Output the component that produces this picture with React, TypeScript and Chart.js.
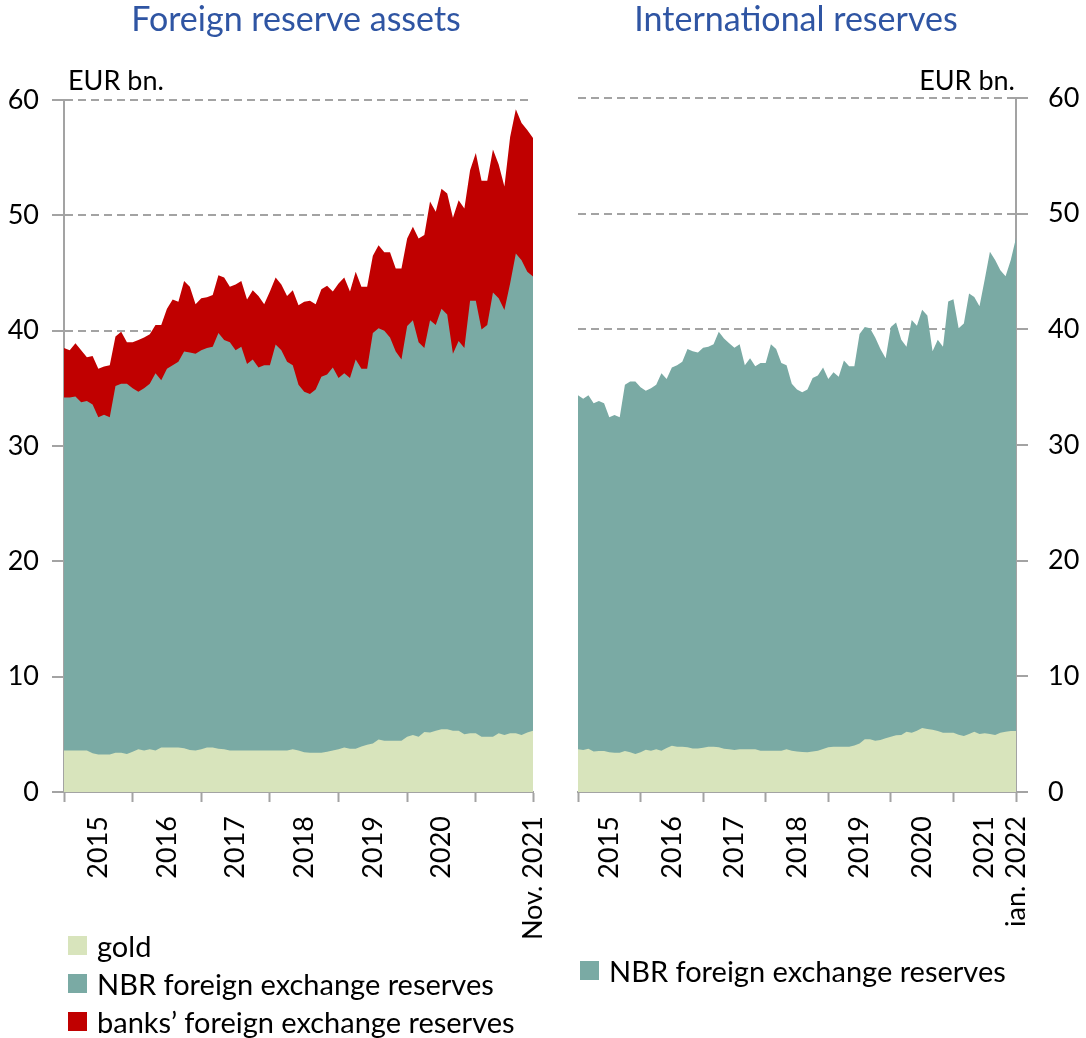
import React, { useEffect, useRef } from "react";
import { Chart, registerables } from "chart.js";

Chart.register(...registerables);

// ---------- data (EUR bn., monthly) ----------
// Left panel: Jan 2015 .. Nov 2021 (83 months)
const goldLeft = [
  3.6, 3.6, 3.6, 3.6, 3.6, 3.35, 3.25, 3.25, 3.25, 3.4,
  3.4, 3.3, 3.5, 3.7, 3.6, 3.7, 3.6, 3.85, 3.85, 3.85,
  3.85, 3.8, 3.65, 3.6, 3.7, 3.85, 3.85, 3.75, 3.7, 3.6,
  3.6, 3.6, 3.6, 3.6, 3.6, 3.6, 3.6, 3.6, 3.6, 3.6,
  3.7, 3.6, 3.45, 3.4, 3.4, 3.4, 3.5, 3.6, 3.7, 3.85,
  3.75, 3.75, 3.95, 4.1, 4.2, 4.55, 4.45, 4.45, 4.45, 4.45,
  4.8, 4.95, 4.8, 5.2, 5.15, 5.3, 5.45, 5.45, 5.3, 5.3,
  5.0, 5.1, 5.1, 4.8, 4.8, 4.8, 5.1, 4.95, 5.1, 5.1,
  4.95, 5.15, 5.3,
];
// gold + NBR foreign exchange reserves (cumulative level)
const nbrLevelLeft = [
  34.2, 34.2, 34.3, 33.8, 33.9, 33.6, 32.5, 32.7, 32.5, 35.2,
  35.4, 35.4, 35.0, 34.7, 35.0, 35.4, 36.3, 35.7, 36.7, 37.0,
  37.3, 38.2, 38.1, 38.0, 38.3, 38.5, 38.6, 39.8, 39.2, 39.0,
  38.3, 38.6, 37.1, 37.5, 36.8, 37.0, 37.0, 38.8, 38.3, 37.3,
  37.0, 35.3, 34.7, 34.5, 34.9, 36.0, 36.2, 36.8, 35.9, 36.3,
  35.9, 37.5, 36.7, 36.7, 39.8, 40.2, 40.0, 39.4, 38.2, 37.5,
  40.4, 40.9, 39.0, 38.5, 40.9, 40.5, 41.9, 41.4, 38.0, 39.1,
  38.5, 42.6, 42.6, 40.1, 40.5, 43.3, 42.8, 41.8, 44.1, 46.7,
  46.1, 45.1, 44.7,
];
// gold + NBR FX reserves + banks' FX reserves (total foreign reserve assets)
const totalLeft = [
  38.5, 38.3, 38.9, 38.3, 37.7, 37.8, 36.7, 36.9, 37.0, 39.5,
  39.9, 39.0, 39.0, 39.2, 39.4, 39.7, 40.5, 40.5, 41.9, 42.7,
  42.5, 44.3, 43.8, 42.3, 42.8, 42.9, 43.1, 44.8, 44.6, 43.8,
  44.0, 44.3, 42.7, 43.5, 43.0, 42.3, 43.4, 44.6, 44.0, 43.0,
  43.5, 42.2, 42.5, 42.6, 42.3, 43.6, 43.9, 43.4, 44.1, 44.6,
  43.4, 45.1, 43.8, 43.8, 46.5, 47.4, 46.8, 46.8, 45.4, 45.4,
  48.0, 49.0, 48.0, 48.3, 51.2, 50.3, 52.3, 51.9, 49.8, 51.3,
  50.6, 53.9, 55.4, 53.0, 53.0, 55.7, 54.4, 52.5, 56.8, 59.2,
  58.0, 57.4, 56.7,
];

// Right panel: Jan 2015 .. Jan 2022 (85 months)
const goldRight = [
  3.69, 3.63, 3.74, 3.5, 3.54, 3.54, 3.43, 3.4, 3.4, 3.54,
  3.43, 3.28, 3.43, 3.66, 3.57, 3.69, 3.57, 3.8, 4.0, 3.92,
  3.92, 3.86, 3.77, 3.77, 3.83, 3.92, 3.92, 3.86, 3.74, 3.69,
  3.63, 3.69, 3.69, 3.69, 3.69, 3.57, 3.57, 3.57, 3.57, 3.57,
  3.69, 3.57, 3.51, 3.46, 3.43, 3.51, 3.57, 3.71, 3.86, 3.92,
  3.92, 3.92, 3.92, 4.03, 4.2, 4.55, 4.55, 4.43, 4.49, 4.64,
  4.78, 4.9, 4.93, 5.2, 5.13, 5.3, 5.53, 5.45, 5.39, 5.27,
  5.13, 5.13, 5.13, 4.95, 4.84, 5.01, 5.2, 5.01, 5.07, 5.01,
  4.93, 5.13, 5.2, 5.27, 5.27,
];
// international reserves = gold + NBR FX reserves (cumulative level)
const intlRight = [
  34.3, 34.0, 34.3, 33.6, 33.8, 33.6, 32.4, 32.6, 32.4, 35.2,
  35.5, 35.5, 35.0, 34.7, 34.9, 35.2, 36.2, 35.7, 36.7, 36.9,
  37.2, 38.3, 38.1, 38.0, 38.4, 38.5, 38.7, 39.8, 39.2, 38.8,
  38.4, 38.7, 36.9, 37.5, 36.8, 37.1, 37.1, 38.7, 38.3, 37.1,
  36.9, 35.3, 34.8, 34.55, 34.8, 35.8, 36.0, 36.7, 35.7, 36.3,
  35.9, 37.3, 36.8, 36.8, 39.6, 40.2, 40.1, 39.3, 38.3, 37.5,
  40.2, 40.6, 39.1, 38.5, 40.8, 40.3, 41.7, 41.2, 38.1, 39.1,
  38.5, 42.4, 42.6, 40.1, 40.5, 43.1, 42.8, 42.0, 44.3, 46.7,
  46.0, 45.1, 44.6, 46.0, 47.9,
];

// tick labels: month index -> label
const leftTickLabels: [number, string][] = [
  [6, "2015"], [18, "2016"], [30, "2017"], [42, "2018"], [54, "2019"], [66, "2020"], [82, "Nov. 2021"],
];
const rightTickLabels: [number, string][] = [
  [6, "2015"], [18, "2016"], [30, "2017"], [42, "2018"], [54, "2019"], [66, "2020"], [78, "2021"], [84, "ian. 2022"],
];
const leftTickMarks = [0, 12, 24, 36, 48, 60, 72, 82];
const rightTickMarks = [0, 12, 24, 36, 48, 60, 72, 84];

const legendLeft = ["gold", "NBR foreign exchange reserves", "banks\u2019 foreign exchange reserves"];
const legendRight = ["NBR foreign exchange reserves"];

// ---------- styles ----------
const FONT = "Lato, 'Open Sans', sans-serif";
const GRAY = "#A3A3A3";
const C_GOLD = "#D8E4BC";
const C_NBR = "#7AAAA4";
const C_BANKS = "#C00000";
const TITLE_BLUE = "#2F55A3";
const AXIS_FONT = 27;
const LEGEND_FONT = 29;

type PanelCfg = {
  series: { data: number[]; color: string }[];
  tickLabels: [number, string][];
  tickMarks: number[];
  yPos: "left" | "right";
  yPad: number;
  padding: { top: number; right: number; left: number; bottom: number };
  yWidth: number;
  xHeight: number;
};

function buildConfig(p: PanelCfg): any {
  const n = p.series[0].data.length;
  const labelMap = new Map<number, string>(p.tickLabels);
  const markSet = new Set<number>(p.tickMarks);
  const tickVals = Array.from(new Set([...p.tickMarks, ...p.tickLabels.map((t) => t[0])])).sort((a, b) => a - b);
  return {
    type: "line",
    data: {
      datasets: p.series.map((s) => ({
        data: s.data.map((v, i) => ({ x: i, y: v })),
        backgroundColor: s.color,
        borderColor: s.color,
        borderWidth: 0,
        pointRadius: 0,
        fill: "origin",
        tension: 0,
      })),
    },
    options: {
      animation: false,
      responsive: false,
      maintainAspectRatio: false,
      layout: { padding: p.padding },
      plugins: { legend: { display: false }, tooltip: { enabled: false }, title: { display: false } },
      scales: {
        x: {
          type: "linear",
          min: 0,
          max: n - 1,
          position: "bottom",
          afterBuildTicks: (s: any) => {
            s.ticks = tickVals.map((v) => ({ value: v }));
          },
          afterFit: (s: any) => {
            s.height = p.xHeight;
            s.paddingLeft = 0;
            s.paddingRight = 0;
          },
          grid: {
            drawOnChartArea: false,
            drawTicks: true,
            tickLength: 10,
            tickWidth: 2,
            tickColor: (ctx: any) => (ctx.tick && markSet.has(ctx.tick.value) ? GRAY : "rgba(0,0,0,0)"),
          },
          border: { display: true, color: GRAY, width: 2 },
          ticks: {
            autoSkip: false,
            minRotation: 90,
            maxRotation: 90,
            padding: 14,
            color: "#000",
            font: { family: FONT, size: AXIS_FONT },
            callback: (v: any) => labelMap.get(Number(v)) ?? "",
          },
        },
        y: {
          min: 0,
          max: 60,
          position: p.yPos,
          afterFit: (s: any) => {
            s.width = p.yWidth;
          },
          grid: {
            color: (ctx: any) => (ctx.tick && ctx.tick.value === 0 ? "rgba(0,0,0,0)" : GRAY),
            lineWidth: 2,
            drawTicks: true,
            tickLength: 12,
            tickColor: GRAY,
            tickWidth: 2,
            tickBorderDash: [],
          },
          border: { display: true, color: GRAY, width: 2, dash: [8, 5] },
          ticks: {
            stepSize: 10,
            padding: p.yPad,
            color: "#000",
            font: { family: FONT, size: AXIS_FONT },
          },
        },
      },
    },
  };
}

function Panel({ cfg, style }: { cfg: PanelCfg; style: React.CSSProperties }) {
  const ref = useRef<HTMLCanvasElement | null>(null);
  useEffect(() => {
    if (!ref.current) return;
    const chart = new Chart(ref.current, buildConfig(cfg));
    return () => chart.destroy();
  }, []);
  const w = style.width as number;
  const h = style.height as number;
  return <canvas ref={ref} width={w} height={h} style={{ position: "absolute", ...style }} />;
}

const textBase: React.CSSProperties = {
  position: "absolute",
  fontFamily: FONT,
  color: "#000",
  whiteSpace: "nowrap",
  lineHeight: 1,
};

function Legend({ items, colors, left, top, rowH }: { items: string[]; colors: string[]; left: number; top: number; rowH: number }) {
  return (
    <div style={{ position: "absolute", left, top }}>
      {items.map((t, i) => (
        <div key={t} style={{ position: "absolute", left: 0, top: i * rowH, height: rowH, display: "flex", alignItems: "center" }}>
          <div style={{ width: 19, height: 19, background: colors[i], marginRight: 10 }} />
          <span style={{ fontFamily: FONT, fontSize: LEGEND_FONT, color: "#000", whiteSpace: "nowrap" }}>{t}</span>
        </div>
      ))}
    </div>
  );
}

export default function App() {
  const leftCfg: PanelCfg = {
    series: [
      { data: goldLeft, color: C_GOLD },
      { data: nbrLevelLeft, color: C_NBR },
      { data: totalLeft, color: C_BANKS },
    ],
    tickLabels: leftTickLabels,
    tickMarks: leftTickMarks,
    yPos: "left",
    yPad: 13,
    padding: { top: 100, right: 27, left: 0, bottom: 0 },
    yWidth: 64,
    xHeight: 208,
  };
  const rightCfg: PanelCfg = {
    series: [
      { data: goldRight, color: C_GOLD },
      { data: intlRight, color: C_NBR },
    ],
    tickLabels: rightTickLabels,
    tickMarks: rightTickMarks,
    yPos: "right",
    yPad: 20,
    padding: { top: 98, right: 0, left: 18, bottom: 0 },
    yWidth: 70,
    xHeight: 208,
  };
  return (
    <div style={{ position: "absolute", left: 0, top: 0, width: 1086, height: 1038, background: "#fff", overflow: "hidden" }}>
      <Panel cfg={leftCfg} style={{ left: 0, top: 0, width: 560, height: 1000 }} />
      <Panel cfg={rightCfg} style={{ left: 560, top: 0, width: 526, height: 1000 }} />
      <div style={{ ...textBase, left: 296, top: 1, transform: "translateX(-50%)", fontSize: 34, color: TITLE_BLUE }}>
        Foreign reserve assets
      </div>
      <div style={{ ...textBase, left: 796, top: 1, transform: "translateX(-50%)", fontSize: 34, color: TITLE_BLUE }}>
        International reserves
      </div>
      <div style={{ ...textBase, left: 68, top: 66, fontSize: 27 }}>EUR bn.</div>
      <div style={{ ...textBase, right: 1086 - 1015, top: 66, fontSize: 27 }}>EUR bn.</div>
      <Legend items={legendLeft} colors={[C_GOLD, C_NBR, C_BANKS]} left={68} top={926} rowH={38} />
      <Legend items={legendRight} colors={[C_NBR]} left={580} top={951} rowH={38} />
    </div>
  );
}
